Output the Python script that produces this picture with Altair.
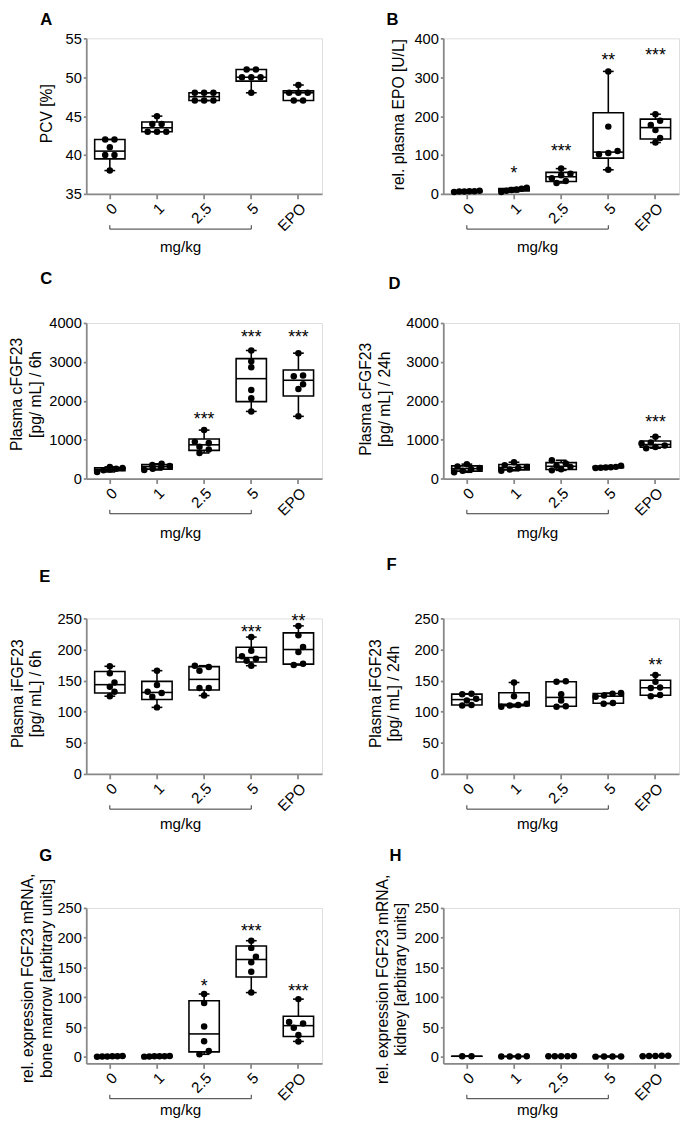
import altair as alt
import numpy as np
import pandas as pd

FONT = "Liberation Sans"
groups = ["0", "1", "2.5", "5", "EPO"]

# ---- data (one list per group, in the order of `groups`) ----
a_pcv = [[38, 40, 40, 41, 42, 42], [43, 43, 43, 44, 44, 45], [47, 47, 47, 48, 48, 48],
         [48, 50, 50, 50, 51, 51], [47, 47, 48, 48, 48, 49]]
a_stars = ["", "", "", "", ""]
a_star_y = [0, 0, 0, 0, 0]

b_epo = [[5, 6, 6, 7, 7, 8], [5, 8, 10, 11, 13, 16], [28, 33, 40, 48, 52, 65],
         [62, 102, 105, 110, 173, 315], [132, 144, 164, 177, 188, 205]]
b_stars = ["", "*", "***", "**", "***"]
b_star_y = [0, 63, 121, 353, 366]

c_cfgf_6h = [[170, 210, 230, 250, 270, 300], [220, 250, 290, 320, 350, 380],
             [657, 746, 820, 914, 943, 1246], [1726, 2063, 2274, 2863, 3015, 3293],
             [1600, 2300, 2425, 2630, 2650, 3225]]
c_stars = ["", "", "***", "***", "***"]
c_star_y = [0, 0, 1625, 3730, 3730]

d_cfgf_24h = [[160, 200, 240, 270, 310, 370], [200, 230, 270, 300, 340, 420],
              [210, 240, 300, 330, 390, 470], [270, 280, 285, 290, 300, 330],
              [780, 810, 850, 900, 930, 1075]]
d_stars = ["", "", "", "", "***"]
d_star_y = [0, 0, 0, 0, 1540]

e_ifgf_6h = [[125, 132, 140, 147, 162, 173], [107, 124, 130, 132, 143, 166],
             [126, 138, 138, 166, 172, 174], [174, 182, 185, 189, 198, 220],
             [175, 177, 196, 204, 223, 238]]
e_stars = ["", "", "", "***", "**"]
e_star_y = [0, 0, 0, 235, 252]

f_ifgf_24h = [[110, 111, 118, 121, 128, 129], [108, 110, 111, 113, 125, 147],
              [108, 109, 118, 128, 148, 149], [113, 114, 124, 126, 129, 130],
              [125, 127, 138, 139, 148, 159]]
f_stars = ["", "", "", "", "**"]
f_star_y = [0, 0, 0, 0, 181.6]

g_bone = [[0.4, 0.7, 0.9, 1.1, 1.3, 1.5], [0.5, 0.8, 1.0, 1.1, 1.2, 1.4],
          [4.4, 9.8, 26.3, 50.9, 90.3, 105.6], [108, 143, 159, 168, 183, 195],
          [26, 37, 49, 56, 58.5, 97]]
g_stars = ["", "", "*", "***", "***"]
g_star_y = [0, 0, 125.8, 217, 116.5]

h_kidney = [[1.0, 1.2], [0.6, 0.8, 0.9, 1.0], [1.0, 1.1, 1.2, 1.3, 1.5],
            [0.5, 0.7, 0.8, 0.9], [1.3, 1.5, 1.6, 1.8, 2.0]]
h_stars = ["", "", "", "", ""]
h_star_y = [0, 0, 0, 0, 0]

# ---- layout constants ----
W, H = 241, 159
STEP = W / len(groups)


def swarm(vals, ppu, d=7.3, s=9.5, maxw=26):
    """GraphPad-like scatter: points at similar height are spread side by side."""
    vals = sorted(vals)
    ys = [v * ppu for v in vals]
    rows, i = [], 0
    while i < len(vals):
        j = i
        while j + 1 < len(vals) and ys[j + 1] - ys[i] < 0.6 * d:
            j += 1
        rows.append(list(range(i, j + 1)))
        i = j + 1
    offs = [0.0] * len(vals)
    placed = []
    for row in rows:
        n = len(row)
        sp = s if n == 1 else min(s, maxw / (n - 1))
        base = [(k - (n - 1) / 2) * sp for k in range(n)]
        chosen = 0.0
        for shift in [0.0, s / 2, -s / 2, s, -s]:
            ok = all(((ys[r] - py) ** 2 + (b + shift - px) ** 2) >= (0.8 * d) ** 2
                     for r, b in zip(row, base) for (py, px) in placed)
            if ok:
                chosen = shift
                break
        for r, b in zip(row, base):
            offs[r] = b + chosen
            placed.append((ys[r], b + chosen))
    return vals, offs


def panel(letter, data, ytitle, domain, ticks, stars, star_y,
          title_x, title_dy, letter_x, letter_y, unit_y):
    ppu = H / (domain[1] - domain[0])
    pts_rows, whisk_rows, box_rows, med_rows, lo_rows, hi_rows = [], [], [], [], [], []
    for g, vals in zip(groups, data):
        sv, offs = swarm(vals, ppu)
        for v, o in zip(sv, offs):
            pts_rows.append({"group": g, "v": v, "off": o})
        q1, med, q3 = np.percentile(vals, [25, 50, 75], method="weibull")
        whisk_rows.append({"group": g, "v": min(vals), "v2": max(vals)})
        box_rows.append({"group": g, "v": q1, "v2": q3})
        med_rows.append({"group": g, "v": med})
        lo_rows.append({"group": g, "v": min(vals)})
        hi_rows.append({"group": g, "v": max(vals)})
    star_df = pd.DataFrame([{"group": g, "label": s, "v": y}
                            for g, s, y in zip(groups, stars, star_y) if s])

    xscale = alt.Scale(type="band", domain=groups, paddingInner=0, paddingOuter=0)
    xaxis = alt.Axis(labelAngle=-45, labelFontSize=15.5, tickSize=5, tickWidth=1.8,
                     domainWidth=1.8, labelPadding=2, grid=False, title=None)
    X = alt.X("group:N", scale=xscale, axis=xaxis, sort=groups)
    yscale = alt.Scale(domain=domain, nice=False, zero=False)
    yaxis = alt.Axis(values=ticks, format="d", tickSize=3, tickWidth=1.8, domainWidth=1.8,
                     labelPadding=2, labelFontSize=15, grid=False,
                     titleFontSize=16, titleFontWeight="normal", titleLineHeight=19,
                     titleAngle=270, titleAlign="center", titleBaseline="middle",
                     titleX=title_x, titleY=H / 2 + title_dy, title=ytitle)
    Y = alt.Y("v:Q", scale=yscale, axis=yaxis)

    whisk = alt.Chart(pd.DataFrame(whisk_rows)).mark_rule(
        color="black", strokeWidth=1.6).encode(x=X, y=Y, y2="v2:Q")
    box = alt.Chart(pd.DataFrame(box_rows)).mark_bar(
        size=31, fill="white", stroke="black", strokeWidth=1.6).encode(x=X, y=Y, y2="v2:Q")
    med = alt.Chart(pd.DataFrame(med_rows)).mark_tick(
        size=31, thickness=1.6, color="black", opacity=1).encode(x=X, y=Y)
    cap_lo = alt.Chart(pd.DataFrame(lo_rows)).mark_tick(
        size=11, thickness=1.6, color="black", opacity=1).encode(x=X, y=Y)
    cap_hi = alt.Chart(pd.DataFrame(hi_rows)).mark_tick(
        size=11, thickness=1.6, color="black", opacity=1).encode(x=X, y=Y)
    dots = alt.Chart(pd.DataFrame(pts_rows)).mark_circle(
        size=44, color="black", opacity=1).encode(
        x=X,
        xOffset=alt.XOffset("off:Q", scale=alt.Scale(domain=[-STEP / 2, STEP / 2])),
        y=Y)
    layers = [whisk, box, med, cap_lo, cap_hi, dots]
    if len(star_df):
        layers.append(alt.Chart(star_df).mark_text(
            fontSize=18, font=FONT, baseline="alphabetic", dy=10, color="black").encode(
            x=X, y=Y, text="label:N"))
    br = pd.DataFrame({"group": ["0", "5"]})
    layers.append(alt.Chart(br).mark_line(color="#333", strokeWidth=1).encode(
        x=X, y=alt.value(H + 36)))
    layers.append(alt.Chart(br).mark_rule(color="#333", strokeWidth=1).encode(
        x=X, y=alt.value(H + 32), y2=alt.value(H + 36)))
    layers.append(alt.Chart(pd.DataFrame({"group": ["1"]})).mark_text(
        fontSize=15.5, font=FONT, baseline="middle", dx=STEP / 2, color="black").encode(
        x=X, y=alt.value(H + unit_y), text=alt.value("mg/kg")))
    # panel letter
    layers.append(alt.Chart(pd.DataFrame({"panel": [letter]})).mark_text(
        fontSize=17, fontWeight="bold", font=FONT, align="left", baseline="alphabetic",
        color="black").encode(
        x=alt.value(letter_x), y=alt.value(letter_y), text="panel:N"))

    return alt.layer(*layers).properties(width=W, height=H)


t4000 = [0, 1000, 2000, 3000, 4000]
t250 = [0, 50, 100, 150, 200, 250]
charts = [
    panel("A", a_pcv, "PCV [%]", [35, 55], [35, 40, 45, 50, 55], a_stars, a_star_y,
          -41, -3, -47, -13.5, 54.5),
    panel("B", b_epo, "rel. plasma EPO [U/L]", [0, 400], [0, 100, 200, 300, 400],
          b_stars, b_star_y, -45.5, -2, -58, -13.5, 54.5),
    panel("C", c_cfgf_6h, ["Plasma cFGF23", "[pg/ mL] / 6h"], [0, 4000], t4000,
          c_stars, c_star_y, -71, -7, -47, -39.5, 55.5),
    panel("D", d_cfgf_24h, ["Plasma cFGF23", "[pg/ mL] / 24h"], [0, 4000], t4000,
          d_stars, d_star_y, -79, -2, -56, -35, 55.5),
    panel("E", e_ifgf_6h, ["Plasma iFGF23", "[pg/ mL] / 6h"], [0, 250], t250,
          e_stars, e_star_y, -70.5, -3, -48, -37, 51.5),
    panel("F", f_ifgf_24h, ["Plasma iFGF23", "[pg/ mL] / 24h"], [0, 250], t250,
          f_stars, f_star_y, -69.5, -3, -58, -49.5, 51.5),
    panel("G", g_bone, ["rel. expression FGF23 mRNA,", "bone marrow [arbitrary units]"],
          [-11, 250], t250, g_stars, g_star_y, -59.5, -8, -48, -47.5, 47.5),
    panel("H", h_kidney, ["rel. expression FGF23 mRNA,", "kidney [arbitrary units]"],
          [-11, 250], t250, h_stars, h_star_y, -62.5, -7, -55, -47.5, 47.5),
]

chart = alt.concat(*charts, columns=2, spacing={"row": 14, "column": 35}).properties(
    padding={"left": 0, "top": -9.5, "right": 0, "bottom": 0}
).configure_view(stroke="transparent", strokeWidth=0).configure_axis(
    labelFont=FONT, titleFont=FONT, labelColor="black", titleColor="black",
    domainColor="black", tickColor="black"
).configure(background="white")

chart.save("out.html", embed_options={"renderer": "svg", "actions": False})
